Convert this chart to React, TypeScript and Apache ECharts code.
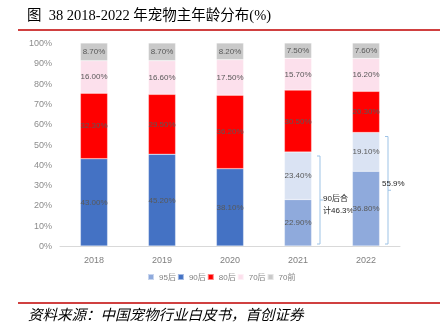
import React, { useEffect, useRef } from "react";
import * as echarts from "echarts";

const years = ["2018", "2019", "2020", "2021", "2022"];
const gen95 = [null, null, null, 22.9, 36.8];
const gen90 = [43.0, 45.2, 38.1, 23.4, 19.1];
const gen80 = [32.3, 29.5, 36.2, 30.5, 20.3];
const gen70 = [16.0, 16.6, 17.5, 15.7, 16.2];
const genPre70 = [8.7, 8.7, 8.2, 7.5, 7.6];
const yTicks = ["0%", "10%", "20%", "30%", "40%", "50%", "60%", "70%", "80%", "90%", "100%"];
const bracketNotes = [
  { cat: 3, total: 46.3, label: "90后合\n计46.3%" },
  { cat: 4, total: 55.9, label: "55.9%" },
];

const COLORS = {
  g95: "#8FAADC",
  g90: "#4472C4",
  g90light: "#DAE3F3",
  g80: "#FF0000",
  g70: "#FCE0EC",
  pre70: "#C9C9C9",
};

export default function App() {
  const ref = useRef<HTMLDivElement>(null);
  useEffect(() => {
    if (!ref.current) return;
    const chart = echarts.init(ref.current, null, { renderer: "svg" });
    const label = {
      show: true,
      position: "inside",
      color: "#595959",
      fontSize: 8,
      fontFamily: "Liberation Sans, Noto Sans CJK SC",
      formatter: (p: any) => (p.value == null ? "" : `${Number(p.value).toFixed(2)}%`),
    };
    const mk = (name: string, data: any[], color: string) => ({
      name,
      type: "bar",
      stack: "total",
      barWidth: "40%",
      data,
      itemStyle: { color, borderColor: "rgba(255,255,255,0.5)", borderWidth: 0.5 },
      label,
    });
    const gen90Data = gen90.map((v, i) =>
      i >= 3 ? { value: v, itemStyle: { color: COLORS.g90light } } : v
    );
    chart.setOption({
      animation: false,
      grid: { left: 60, right: 43, top: 43, bottom: 83 },
      legend: {
        left: 147,
        top: 273,
        padding: 0,
        itemWidth: 6,
        itemHeight: 6,
        itemGap: 1,
        icon: "rect",
        textStyle: { color: "#7f7f7f", fontSize: 8, fontFamily: "Liberation Sans, Noto Sans CJK SC" },
        data: ["95后", "90后", "80后", "70后", "70前"],
      },
      xAxis: {
        type: "category",
        data: years,
        axisLine: { lineStyle: { color: "#d9d9d9" } },
        axisTick: { show: false },
        axisLabel: { color: "#7f7f7f", fontSize: 9, margin: 9, fontFamily: "Liberation Sans" },
      },
      yAxis: {
        type: "value",
        min: 0,
        max: 100,
        interval: 10,
        splitLine: { show: false },
        axisLine: { show: false },
        axisTick: { show: false },
        axisLabel: {
          color: "#8c8c8c",
          fontSize: 9,
          margin: 8,
          fontFamily: "Liberation Sans",
          formatter: (v: number) => yTicks[Math.round(v / 10)],
        },
      },
      series: [
        mk("95后", gen95, COLORS.g95),
        mk("90后", gen90Data, COLORS.g90),
        mk("80后", gen80, COLORS.g80),
        mk("70后", gen70, COLORS.g70),
        mk("70前", genPre70, COLORS.pre70),
      ],
    });

    const graphics: any[] = [
      {
        type: "text",
        left: 27,
        top: 8,
        style: {
          text: "图  38 2018-2022 年宠物主年龄分布(%)",
          fontSize: 14.5,
          fill: "#000",
          fontFamily: "Liberation Serif, Noto Sans CJK SC",
        },
      },
      { type: "line", shape: { x1: 18, y1: 30, x2: 440, y2: 30 }, style: { stroke: "#C00000", lineWidth: 1.5 } },
      { type: "line", shape: { x1: 18, y1: 303, x2: 440, y2: 303 }, style: { stroke: "#C00000", lineWidth: 1.5 } },
      {
        type: "text",
        left: 28,
        top: 306,
        style: {
          text: "资料来源：中国宠物行业白皮书，首创证券",
          fontSize: 14.5,
          fontStyle: "italic",
          fill: "#000",
          fontFamily: "Noto Sans CJK SC",
        },
      },
    ];
    bracketNotes.forEach((b) => {
      const top = chart.convertToPixel({ gridIndex: 0 }, [b.cat, b.total]) as number[];
      const bot = chart.convertToPixel({ gridIndex: 0 }, [b.cat, 0]) as number[];
      const x = top[0] + 22;
      const y1 = top[1] + 4;
      const y2 = bot[1] - 2;
      const ym = (y1 + y2) / 2;
      const stroke = "#9DC3E6";
      graphics.push(
        {
          type: "polyline",
          shape: { points: [[x - 3, y1], [x, y1], [x, y2], [x - 3, y2]] },
          style: { stroke, lineWidth: 1, fill: null },
        },
        { type: "line", shape: { x1: x, y1: ym, x2: x + 3, y2: ym }, style: { stroke, lineWidth: 1 } },
        {
          type: "text",
          x: b.cat === 3 ? x + 3 : x - 6,
          y: b.cat === 3 ? ym - 8 : ym - 13,
          style: {
            text: b.label,
            fontSize: 8,
            lineHeight: 12,
            fill: "#262626",
            fontFamily: "Liberation Sans, Noto Sans CJK SC",
          },
        }
      );
    });
    chart.setOption({ graphic: graphics });
    return () => chart.dispose();
  }, []);
  return <div ref={ref} style={{ position: "fixed", left: 0, top: 0, width: 443, height: 329 }} />;
}
